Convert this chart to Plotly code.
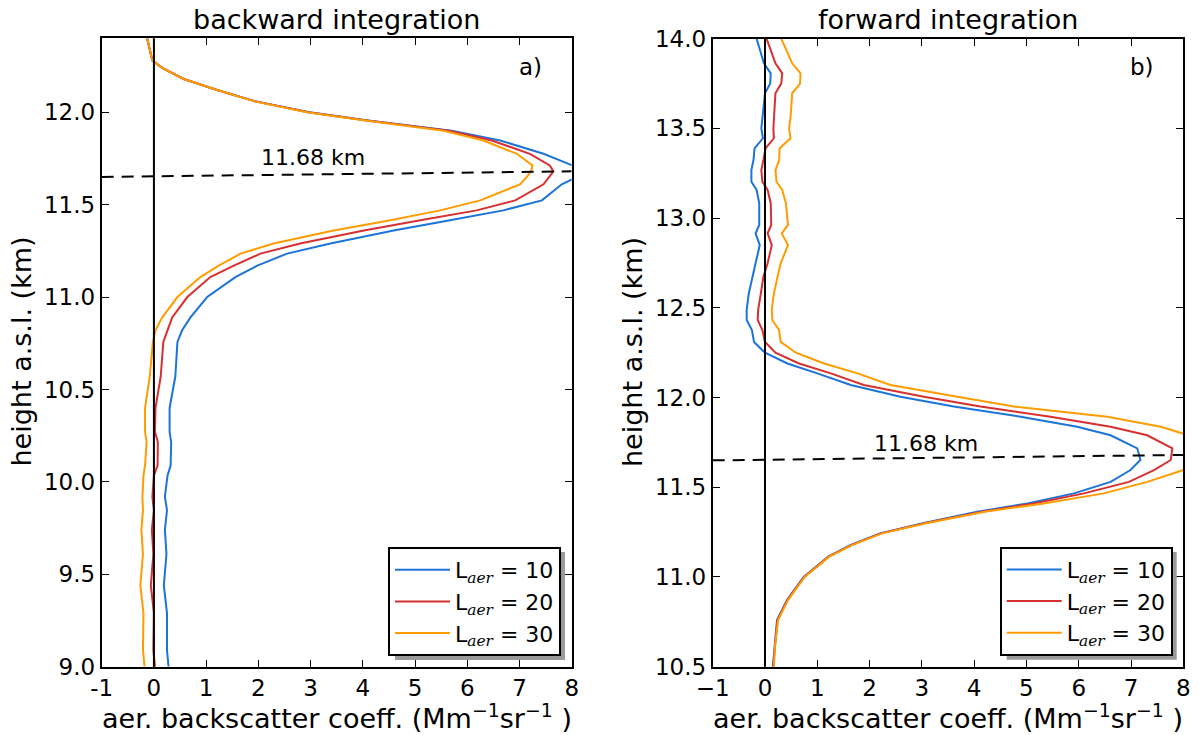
import plotly.graph_objects as go

W, H = 1199, 735

# ---------------- data: backward integration (panel a) ----------------
back_h = [12.40, 12.31, 12.28, 12.24, 12.18, 12.12, 12.06, 12.00, 11.955, 11.90,
          11.847, 11.775, 11.712, 11.68, 11.65, 11.61, 11.523, 11.469, 11.415, 11.36,
          11.29, 11.235, 11.17, 11.108, 11.00, 10.89, 10.82, 10.757, 10.57, 10.40,
          10.27, 10.216, 10.09, 10.034, 9.92, 9.847, 9.74, 9.61, 9.44, 9.29,
          9.09, 9.00]
back_10 = [-0.13, -0.06, -0.03, 0.16, 0.57, 1.21, 1.93, 2.98, 4.10, 5.70,
           6.63, 7.46, 8.05, 8.30, 8.10, 7.81, 7.43, 6.69, 5.67, 4.59,
           3.38, 2.55, 1.98, 1.56, 1.02, 0.70, 0.54, 0.45, 0.41, 0.30,
           0.30, 0.33, 0.32, 0.26, 0.21, 0.25, 0.21, 0.24, 0.19, 0.25,
           0.25, 0.28]
back_20 = [-0.13, -0.06, -0.03, 0.16, 0.57, 1.21, 1.92, 2.95, 4.08, 5.65,
           6.47, 7.20, 7.58, 7.65, 7.57, 7.46, 6.92, 6.18, 5.10, 4.02,
           2.80, 2.04, 1.53, 1.08, 0.64, 0.35, 0.26, 0.18, 0.13, 0.03,
           0.02, 0.075, 0.07, 0.00, -0.03, 0.00, -0.04, -0.01, -0.06, 0.00,
           -0.01, 0.02]
back_30 = [-0.13, -0.06, -0.03, 0.16, 0.57, 1.21, 1.91, 2.93, 4.05, 5.55,
           6.31, 6.95, 7.25, 7.22, 7.14, 7.01, 6.25, 5.48, 4.53, 3.44,
           2.29, 1.66, 1.24, 0.89, 0.45, 0.16, 0.03, -0.02, -0.08, -0.17,
           -0.17, -0.14, -0.17, -0.20, -0.22, -0.21, -0.24, -0.21, -0.26, -0.20,
           -0.21, -0.18]

# ---------------- data: forward integration (panel b) ----------------
fwd_h = [14.00, 13.863, 13.807, 13.75, 13.696, 13.565, 13.50, 13.445, 13.389, 13.324,
         13.268, 13.203, 13.157, 13.083, 12.962, 12.915, 12.85, 12.748, 12.673, 12.58,
         12.49, 12.432, 12.376, 12.31, 12.25, 12.19, 12.135, 12.07, 12.005, 11.95,
         11.893, 11.837, 11.79, 11.717, 11.652, 11.596, 11.53, 11.466, 11.41, 11.363,
         11.30, 11.243, 11.178, 11.113, 11.00, 10.871, 10.76, 10.61, 10.50]
fwd_10 = [-0.16, -0.02, 0.11, 0.10, 0.00, -0.04, -0.07, -0.04, -0.20, -0.22,
          -0.26, -0.26, -0.16, -0.11, -0.11, -0.18, -0.10, -0.18, -0.24, -0.31,
          -0.35, -0.35, -0.25, -0.21, 0.00, 0.43, 1.00, 1.64, 2.59, 3.61,
          4.89, 5.97, 6.61, 7.12, 7.18, 6.99, 6.61, 5.91, 5.02, 4.06,
          3.02, 2.20, 1.63, 1.21, 0.74, 0.42, 0.23, 0.18, 0.15]
fwd_20 = [0.03, 0.20, 0.33, 0.31, 0.20, 0.17, 0.16, 0.17, 0.01, -0.03,
          -0.07, -0.05, 0.05, 0.11, 0.12, 0.05, 0.13, 0.05, -0.03, -0.08,
          -0.13, -0.14, -0.05, 0.00, 0.20, 0.65, 1.26, 1.89, 3.04, 4.12,
          5.46, 6.61, 7.31, 7.79, 7.76, 7.44, 6.96, 6.10, 5.14, 4.15,
          3.05, 2.22, 1.65, 1.22, 0.75, 0.43, 0.24, 0.19, 0.16]
fwd_30 = [0.31, 0.52, 0.68, 0.67, 0.52, 0.49, 0.46, 0.49, 0.28, 0.27,
          0.20, 0.22, 0.33, 0.40, 0.44, 0.32, 0.44, 0.30, 0.24, 0.17,
          0.13, 0.14, 0.27, 0.30, 0.59, 1.13, 1.77, 2.40, 3.68, 4.76,
          6.55, 7.57, 8.10, 8.50, 8.40, 8.00, 7.31, 6.48, 5.33, 4.20,
          3.08, 2.24, 1.66, 1.23, 0.76, 0.44, 0.25, 0.19, 0.17]

lidar_ratios = [10, 20, 30]
colors = ["#1c74d9", "#d63030", "#ff9c00"]

# reference line at the layer height
peak_label = "11.68 km"
peak_line_x = [-1, 8]
peak_line_y = [11.65, 11.68]

x_ticks = [-1, 0, 1, 2, 3, 4, 5, 6, 7, 8]
x_ticktext_a = ["-1", "0", "1", "2", "3", "4", "5", "6", "7", "8"]

# ---------------- layout helpers (pixel -> paper) ----------------
def px(x):
    return x / W

def py(y):
    return (H - y) / H

FONT = "DejaVu Sans"
fig = go.Figure()

def lab(n):
    return ("L<sub><span style='font-family:DejaVu Serif'><i>aer</i></span></sub> = %d" % n)

for vals, n, c in zip([back_10, back_20, back_30], lidar_ratios, colors):
    fig.add_trace(go.Scatter(x=vals, y=back_h, mode="lines", name=lab(n),
                             line=dict(color=c, width=2), xaxis="x", yaxis="y",
                             legend="legend"))
for vals, n, c in zip([fwd_10, fwd_20, fwd_30], lidar_ratios, colors):
    fig.add_trace(go.Scatter(x=vals, y=fwd_h, mode="lines", name=lab(n),
                             line=dict(color=c, width=2), xaxis="x2", yaxis="y2",
                             legend="legend2"))
for xa, ya in [("x", "y"), ("x2", "y2")]:
    fig.add_trace(go.Scatter(x=peak_line_x, y=peak_line_y, mode="lines",
                             line=dict(color="black", width=2, dash="12px,8px"),
                             showlegend=False, xaxis=xa, yaxis=ya))

ax_common = dict(showline=True, linecolor="black", linewidth=2, mirror="allticks",
                 ticks="inside", ticklen=7, tickwidth=1, tickcolor="black",
                 showgrid=False, zeroline=False, automargin=False,
                 tickfont=dict(family=FONT, size=23, color="black"))

leg_common = dict(xanchor="right", yanchor="bottom", bgcolor="white",
                  bordercolor="black", borderwidth=2, itemwidth=55,
                  font=dict(family=FONT, size=22, color="black"))

fig.update_layout(
    width=W, height=H,
    margin=dict(l=0, r=0, t=0, b=0),
    paper_bgcolor="white", plot_bgcolor="white",
    font=dict(family=FONT, color="black"),
    xaxis=dict(domain=[px(101.7), px(571.7)], range=[-1, 8], tickvals=x_ticks,
               ticktext=x_ticktext_a, anchor="y", **ax_common),
    yaxis=dict(domain=[py(666.7), py(38.3)], range=[9, 12.4], dtick=0.5, tick0=9,
               tickformat=".1f", anchor="x", **ax_common),
    xaxis2=dict(domain=[px(712.7), px(1183.3)], range=[-1, 8], tickvals=x_ticks,
                anchor="y2", **ax_common),
    yaxis2=dict(domain=[py(666.7), py(38.7)], range=[10.5, 14.0], dtick=0.5, tick0=10.5,
                tickformat=".1f", anchor="x2", **ax_common),
    legend=dict(x=px(561), y=py(656), **leg_common),
    legend2=dict(x=px(1172.7), y=py(655.7), **leg_common),
)

shapes = []
for xr in ["x", "x2"]:
    yr = "y" if xr == "x" else "y2"
    shapes.append(dict(type="line", xref=xr, yref=yr + " domain", x0=0, x1=0, y0=0, y1=1,
                       line=dict(color="black", width=2), layer="above"))
# legend shadows
shapes.append(dict(type="rect", xref="paper", yref="paper", x0=px(395), x1=px(565),
                   y0=py(660), y1=py(552), fillcolor="#9a9a9a", line=dict(width=0),
                   layer="above"))
shapes.append(dict(type="rect", xref="paper", yref="paper", x0=px(1006.7), x1=px(1176.7),
                   y0=py(659.7), y1=py(552), fillcolor="#9a9a9a", line=dict(width=0),
                   layer="above"))
fig.update_layout(shapes=shapes)

ann = []
ann.append(dict(text="backward integration", x=px(336.7), y=py(19), xref="paper", yref="paper",
                showarrow=False, font=dict(size=27, family=FONT), xanchor="center", yanchor="middle"))
ann.append(dict(text="forward integration", x=px(948), y=py(19), xref="paper", yref="paper",
                showarrow=False, font=dict(size=27, family=FONT), xanchor="center", yanchor="middle"))
for cx in [20.5, 632]:
    ann.append(dict(text="height a.s.l. (km)", x=px(cx), y=py(352), xref="paper", yref="paper",
                    showarrow=False, textangle=-90, font=dict(size=27, family=FONT),
                    xanchor="center", yanchor="middle"))
for cx in [336.7, 948]:
    ann.append(dict(text="aer. backscatter coeff. (Mm<sup>\u22121</sup>sr<sup>\u22121</sup> )",
                    x=px(cx), y=py(716), xref="paper", yref="paper", showarrow=False,
                    font=dict(size=27, family=FONT), xanchor="center", yanchor="middle"))
ann.append(dict(text=peak_label, x=3.05, y=11.755, xref="x", yref="y", showarrow=False,
                font=dict(size=22, family=FONT), xanchor="center", yanchor="middle"))
ann.append(dict(text=peak_label, x=3.07, y=11.746, xref="x2", yref="y2", showarrow=False,
                font=dict(size=22, family=FONT), xanchor="center", yanchor="middle"))
ann.append(dict(text="a)", x=px(530), y=py(67), xref="paper", yref="paper", showarrow=False,
                font=dict(size=23, family=FONT), xanchor="center", yanchor="middle"))
ann.append(dict(text="b)", x=px(1142), y=py(67), xref="paper", yref="paper", showarrow=False,
                font=dict(size=23, family=FONT), xanchor="center", yanchor="middle"))
fig.update_layout(annotations=ann)

fig.write_html("out.html", config={"displayModeBar": False},
               post_script="document.body.style.margin='0';document.body.style.overflow='hidden';")
